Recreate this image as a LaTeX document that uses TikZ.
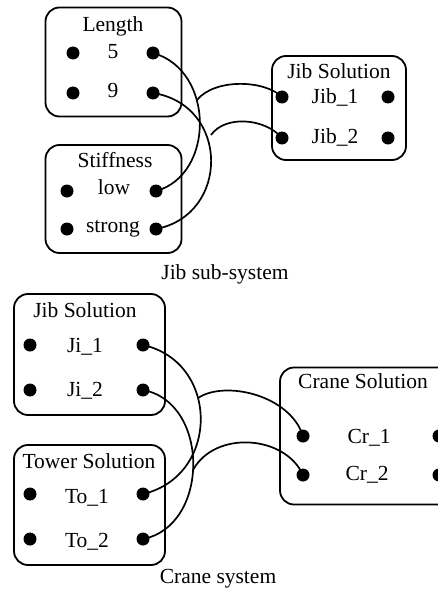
\documentclass[tikz,border=0pt]{standalone}
\usepackage{fontspec}
\setmainfont{Liberation Serif}
\newfontfamily\timesfont{Liberation Serif}
\usepackage{tikz}
\usetikzlibrary{positioning}

\tikzset{
    box/.style={draw, line width=1.8pt, rounded corners=14pt, inner sep=0pt},
    dot/.style={circle, fill, inner sep=0pt, minimum size=13pt},
    lbl/.style={anchor=base, inner sep=0pt},
    wire/.style={line width=1.7pt}
}

\begin{document}
\begin{tikzpicture}[x=1pt, y=-1pt, font=\timesfont\fontsize{21.5}{25}\selectfont]
    \useasboundingbox (0,0) rectangle (438,591);

    % Jib sub-system boxes
    \node[box, minimum width=136pt, minimum height=109pt] (lenbox) at (113.5,62) {};
    \node[box, minimum width=136pt, minimum height=108pt] (stbox) at (113.5,199) {};
    \node[box, minimum width=134pt, minimum height=104pt] (jbobox) at (339,108) {};

    % Crane system boxes
    \node[box, minimum width=151pt, minimum height=121pt] (jibox) at (89.5,354.5) {};
    \node[box, minimum width=151pt, minimum height=120pt] (towbox) at (89.5,505) {};
    \node[box, minimum width=180pt, minimum height=137pt] (crbox) at (370,436) {};

    % Titles and values
    \node[lbl] (lentitle) at (113,32) {Length};
    \node[lbl] (len5) at (113,59) {5};
    \node[lbl] (len9) at (113,98) {9};
    \node[lbl] (sttitle) at (115,167) {Stiffness};
    \node[lbl] (stlow) at (114,194) {low};
    \node[lbl] (ststr) at (113,232) {strong};
    \node[lbl] (jbotitle) at (339,79) {Jib Solution};
    \node[lbl] (jbo1) at (335,103) {Jib\_1};
    \node[lbl] (jbo2) at (335,143) {Jib\_2};
    \node[lbl] (jibcap) at (225,279) {Jib sub-system};

    \node[lbl] (jititle) at (85,317) {Jib Solution};
    \node[lbl] (ji1) at (85,352) {Ji\_1};
    \node[lbl] (ji2) at (85,396) {Ji\_2};
    \node[lbl] (towtitle) at (89,468) {Tower Solution};
    \node[lbl] (to1) at (87,503) {To\_1};
    \node[lbl] (to2) at (87,547) {To\_2};
    \node[lbl] (crtitle) at (363,388) {Crane Solution};
    \node[lbl] (cr1) at (369,443) {Cr\_1};
    \node[lbl] (cr2) at (367,480) {Cr\_2};
    \node[lbl] (cranecap) at (218,583) {Crane system};

    % Ports
    \foreach \n/\x/\y in {len5l/73/53, len5r/153/53, len9l/73/93, len9r/153/93,
        stlowl/67/191, stlowr/156/191, ststrl/67/229, ststrr/156/229,
        jbo1l/282/97, jbo1r/388/97, jbo2l/282/138, jbo2r/388/138,
        ji1l/30/345, ji1r/143/345, ji2l/30/390, ji2r/143/390,
        to1l/30/494, to1r/143/494, to2l/30/539, to2r/143/539,
        cr1l/303/436, cr1r/439/436, cr2l/303/475, cr2r/439/475}
        \node[dot] (\n) at (\x,\y) {};

    % Joins on the arcs
    \coordinate (jA) at (197,100);
    \coordinate (jB) at (211,135);
    \coordinate (cA) at (198,398);
    \coordinate (cB) at (193,470);

    % Jib sub-system wires
    \draw[wire] (len5r.center) .. controls (215,70) and (215,175) .. (stlowr.center);
    \draw[wire] (len9r.center) .. controls (230,105) and (230,215) .. (ststrr.center);
    \draw[wire] (jbo1l.center) .. controls (265,80) and (215,78) .. (jA);
    \draw[wire] (jbo2l.center) .. controls (265,118) and (225,115) .. (jB);

    % Crane system wires
    \draw[wire] (ji1r.center) .. controls (220,362) and (220,476) .. (to1r.center);
    \draw[wire] (ji2r.center) .. controls (210,402) and (210,526) .. (to2r.center);
    \draw[wire] (cr1l.center) .. controls (290,395) and (225,380) .. (cA);
    \draw[wire] (cr2l.center) .. controls (285,435) and (215,430) .. (cB);
\end{tikzpicture}
\end{document}
